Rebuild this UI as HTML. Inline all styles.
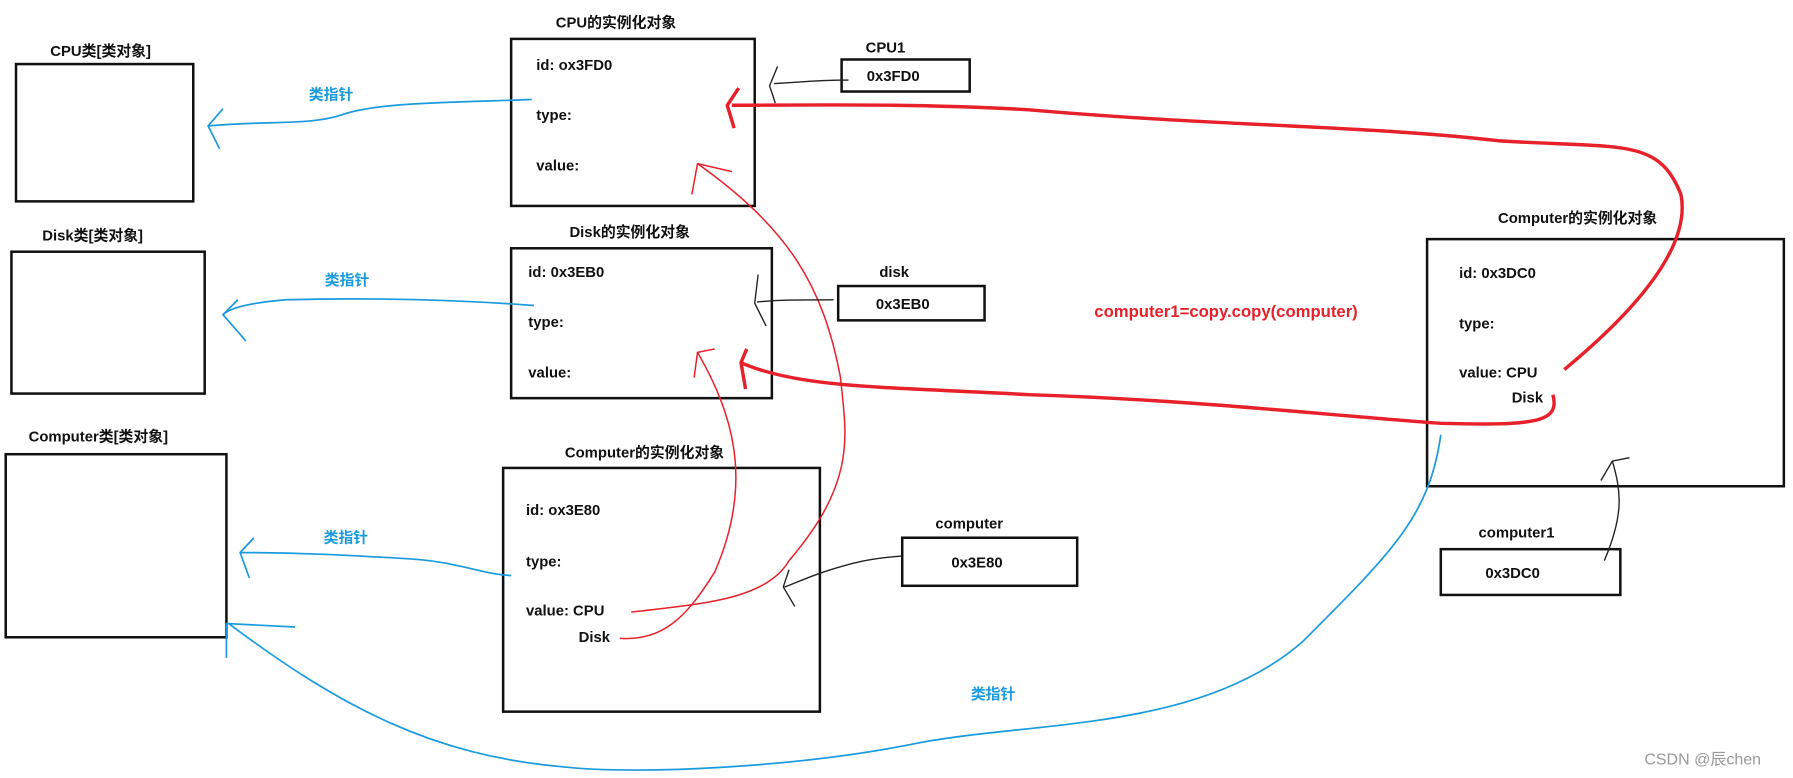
<!DOCTYPE html>
<html><head><meta charset="utf-8"><style>
html,body{margin:0;padding:0;background:#fff;width:1793px;height:778px;overflow:hidden}
svg{display:block}
text{font-family:"Liberation Sans","Noto Sans CJK SC",sans-serif;font-weight:bold;font-size:13px;fill:#111}
.b{fill:#1a9be0}.r{fill:#e8202a}
</style></head><body>
<svg width="1793" height="778" viewBox="0 0 1568 680" preserveAspectRatio="none" xmlns="http://www.w3.org/2000/svg">
<g fill="none" stroke="#111" stroke-width="2.2">
<rect x="14" y="56" width="155" height="120"/>
<rect x="10" y="220" width="169" height="124"/>
<rect x="5" y="397" width="193" height="160"/>
<rect x="447" y="34" width="213" height="146"/>
<rect x="447" y="217" width="228" height="131"/>
<rect x="440" y="409" width="277" height="213"/>
<rect x="736" y="52" width="112" height="28"/>
<rect x="733" y="250" width="128" height="30"/>
<rect x="789" y="470" width="153" height="42"/>
<rect x="1248" y="209" width="312" height="216"/>
<rect x="1260" y="480" width="157" height="40"/>
</g>
<text x="44" y="49">CPU类[类对象]</text>
<text x="37" y="210">Disk类[类对象]</text>
<text x="25" y="386">Computer类[类对象]</text>
<text x="486" y="24">CPU的实例化对象</text>
<text x="498" y="207">Disk的实例化对象</text>
<text x="494" y="400">Computer的实例化对象</text>
<text x="1310" y="195">Computer的实例化对象</text>
<text x="469" y="61">id: ox3FD0</text>
<text x="469" y="105">type:</text>
<text x="469" y="149">value:</text>
<text x="462" y="242">id: 0x3EB0</text>
<text x="462" y="286">type:</text>
<text x="462" y="330">value:</text>
<text x="460" y="450">id: ox3E80</text>
<text x="460" y="495">type:</text>
<text x="460" y="538">value: CPU</text>
<text x="506" y="561">Disk</text>
<text x="1276" y="243">id: 0x3DC0</text>
<text x="1276" y="287">type:</text>
<text x="1276" y="330">value: CPU</text>
<text x="1322" y="352">Disk</text>
<text x="757" y="46">CPU1</text>
<text x="758" y="71">0x3FD0</text>
<text x="769" y="242">disk</text>
<text x="766" y="270">0x3EB0</text>
<text x="818" y="462">computer</text>
<text x="832" y="496">0x3E80</text>
<text x="1293" y="470">computer1</text>
<text x="1299" y="505">0x3DC0</text>
<text x="957" y="277" class="r" style="font-size:14.6px">computer1=copy.copy(computer)</text>
<text x="270" y="87" class="b">类指针</text>
<text x="284" y="249" class="b">类指针</text>
<text x="283" y="474" class="b">类指针</text>
<text x="849" y="611" class="b">类指针</text>
<text x="1438" y="668" style="font-weight:normal;fill:#999;font-size:14px">CSDN @辰chen</text>
<g fill="none" stroke="#1a9be0" stroke-width="1.5">
<path d="M465 87 C380 90 330 90 300 100 C270 110 240 105 182 110"/>
<path d="M195 95 L182 110 L192 130"/>
<path d="M467 267 C400 262 330 260 250 262 C215 265 200 270 195 275"/>
<path d="M208 262 L195 275 L215 298"/>
<path d="M447 503 C420 502 400 490 350 488 C300 485 260 483 210 483"/>
<path d="M222 470 L210 483 L218 505"/>
<path d="M198 575 L198 545 L258 548"/>
<path d="M1260 380 C1250 450 1220 480 1140 560 C1050 640 900 630 800 650 C700 670 560 678 490 670 C380 660 300 620 200 545"/>
</g>
<g fill="none" stroke="#e8202a" stroke-width="1.3">
<path d="M552 535 C610 528 670 525 690 490 C750 420 740 380 735 330 C720 250 690 200 610 143"/>
<path d="M605 170 L610 143 L640 150"/>
<path d="M542 558 C580 560 600 540 625 500 C660 420 640 360 610 308"/>
<path d="M607 330 L610 308 L625 305"/>
</g>
<g fill="none" stroke="#e8202a" stroke-width="3">
<path d="M1368 323 C1420 280 1480 220 1470 170 C1450 120 1420 130 1310 123 C1200 110 1060 110 900 96 C800 90 700 92 640 92"/>
<path d="M646 77 L636 92 L642 112"/>
<path d="M1358 345 C1365 370 1340 372 1260 370 C1150 362 1050 350 900 345 C780 338 700 340 648 317"/>
<path d="M653 305 L648 317 L652 340"/>
</g>
<g fill="none" stroke="#222" stroke-width="1.2">
<path d="M742 70 C710 70 700 72 677 73"/>
<path d="M680 58 L673 75 L678 90"/>
<path d="M729 262 C700 262 680 262 662 264"/>
<path d="M663 240 L660 265 L670 285"/>
<path d="M789 486 C760 488 745 492 720 500 C700 507 690 512 686 513"/>
<path d="M690 498 L685 513 L695 530"/>
<path d="M1403 490 C1420 450 1418 430 1410 403"/>
<path d="M1400 420 L1410 403 L1425 400"/>
</g>
</svg>
</body></html>
